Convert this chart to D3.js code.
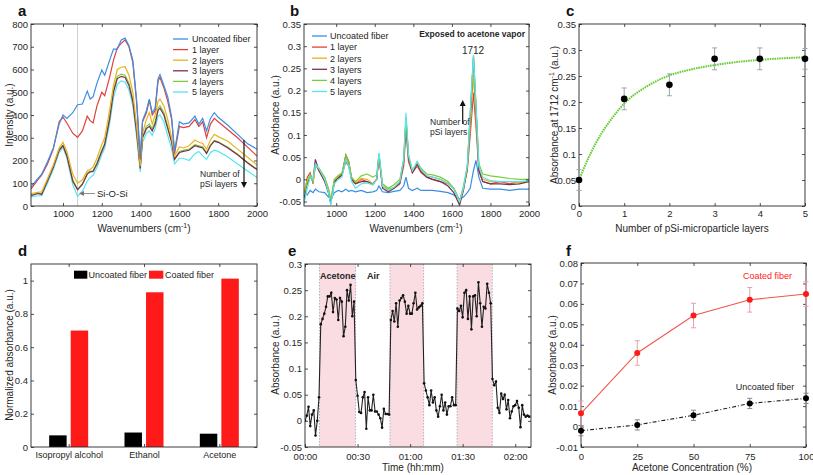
<!DOCTYPE html>
<html><head><meta charset="utf-8">
<script src="https://cdn.jsdelivr.net/npm/d3@7"></script>
<style>body{margin:0;background:#fff;} svg text{font-family:"Liberation Sans",Arial,Helvetica,sans-serif;fill:#262626;}</style>
</head><body><svg id="chart" width="813" height="475"></svg>
<script>
// ---------- Panel a: intensity spectra ----------
const A_WN = [835,870,890,920,950,980,1000,1020,1050,1075,1100,1125,1140,1155,1175,1200,1215,1240,1260,1280,1300,1320,1340,1360,1380,1398,1410,1430,1445,1460,1475,1490,1500,1520,1540,1560,1575,1600,1620,1650,1680,1700,1720,1740,1760,1780,1800,1850,1900,1950,2000];
const A_UNCOATED = [85,120,140,195,255,360,400,385,410,445,448,505,470,480,540,598,575,640,690,690,730,738,705,640,460,215,375,420,470,410,430,560,578,530,480,390,240,370,360,365,395,360,385,330,385,410,390,355,315,275,250];
const A_L1 = [75,115,135,185,250,370,390,365,320,302,330,395,375,365,440,500,485,565,640,695,715,730,700,630,450,205,370,410,465,400,420,550,565,520,460,380,230,350,345,350,380,350,370,300,360,385,370,335,300,260,220];
const A_L2 = [55,60,62,120,180,255,280,240,140,100,115,155,160,172,210,270,300,420,530,600,610,612,575,500,350,175,320,380,410,360,400,460,470,440,380,300,220,260,255,265,290,280,275,250,290,315,305,285,250,215,180];
const A_L3 = [45,55,50,110,170,245,265,220,110,72,95,140,150,152,185,240,270,380,500,560,570,565,530,460,320,165,300,340,350,330,360,420,430,400,340,280,205,235,240,245,265,260,255,230,265,285,280,255,225,190,160];
const A_L4 = [50,55,55,115,175,250,268,225,115,72,98,145,152,155,190,245,275,390,510,570,580,575,540,470,330,168,305,350,360,340,370,430,440,410,350,285,210,240,245,250,270,265,260,235,268,288,282,258,228,192,162];
const A_L5 = [40,45,45,100,160,235,258,210,95,42,65,110,125,135,170,225,255,360,475,535,550,545,510,440,300,150,280,320,330,310,340,395,400,370,310,250,185,210,210,200,230,240,220,205,235,245,240,215,185,155,125];
const A_X_TICKS = [1000,1200,1400,1600,1800,2000];
const A_Y_TICKS = [0,100,200,300,400,500,600,700,800];

// ---------- Panel b: absorbance spectra ----------
const B_WN = [833,850,865,880,892,910,940,960,972,990,1010,1030,1050,1065,1080,1100,1130,1160,1190,1210,1222,1240,1270,1300,1330,1350,1362,1375,1395,1420,1440,1470,1500,1540,1580,1610,1640,1660,1680,1695,1712,1725,1740,1760,1800,1850,1900,1950,2000];
const B_UNCOATED = [-0.03,-0.035,-0.025,-0.03,-0.022,-0.028,-0.03,-0.04,-0.045,-0.03,-0.025,-0.028,-0.022,-0.027,-0.025,-0.028,-0.025,-0.03,-0.028,-0.025,-0.015,-0.028,-0.03,-0.027,-0.025,-0.015,0.005,-0.02,-0.025,-0.02,-0.025,-0.025,-0.025,-0.027,-0.03,-0.035,-0.045,-0.04,-0.03,-0.02,0.02,0.043,0.005,-0.02,-0.022,-0.022,-0.025,-0.022,-0.022];
const B_L1 = [-0.045,0.005,0.015,-0.01,0.035,0.02,0.0,-0.03,-0.05,-0.01,0.005,0.01,0.04,0.03,0.0,-0.01,0.0,-0.005,-0.01,0.0,0.05,-0.015,-0.025,-0.02,-0.01,0.03,0.11,0.04,0.015,0.03,0.015,0.005,0.0,-0.005,-0.01,-0.02,-0.048,-0.02,0.02,0.1,0.195,0.12,0.02,-0.005,-0.01,-0.005,-0.01,-0.005,-0.005];
const B_L2 = [-0.03,0.0,0.01,-0.005,0.03,0.025,0.005,-0.025,-0.05,-0.005,0.008,0.012,0.048,0.035,0.0,-0.008,0.002,0.0,-0.01,0.0,0.055,-0.015,-0.022,-0.018,-0.005,0.04,0.13,0.05,0.02,0.035,0.02,0.008,0.005,0.0,-0.008,-0.02,-0.05,-0.02,0.025,0.12,0.235,0.14,0.025,0.0,-0.005,-0.005,-0.005,-0.008,-0.003];
const B_L3 = [-0.04,-0.01,0.005,0.0,0.045,0.02,-0.005,-0.03,-0.055,-0.005,0.002,0.01,0.055,0.04,0.0,-0.01,-0.005,-0.005,-0.012,0.0,0.055,-0.02,-0.028,-0.02,-0.008,0.04,0.135,0.05,0.015,0.035,0.018,0.005,0.0,-0.005,-0.015,-0.03,-0.058,-0.025,0.025,0.14,0.275,0.16,0.02,-0.005,-0.01,-0.01,-0.012,-0.01,-0.005];
const B_L4 = [-0.035,-0.005,0.01,-0.005,0.03,0.025,0.005,-0.02,-0.045,0.0,0.008,0.015,0.055,0.04,0.005,-0.005,0.008,0.012,0.005,0.01,0.058,-0.01,-0.02,-0.012,0.0,0.045,0.14,0.055,0.02,0.04,0.025,0.012,0.01,0.005,-0.005,-0.02,-0.05,-0.015,0.03,0.15,0.278,0.17,0.035,0.012,0.008,0.005,0.002,0.0,0.0];
const B_L5 = [-0.055,-0.02,0.005,0.0,0.035,0.025,0.0,-0.03,-0.058,-0.01,0.0,0.005,0.045,0.03,-0.005,-0.02,-0.01,-0.008,-0.012,0.0,0.06,-0.015,-0.025,-0.018,-0.005,0.045,0.15,0.055,0.02,0.04,0.022,0.008,0.005,0.0,-0.01,-0.022,-0.05,-0.02,0.03,0.15,0.28,0.165,0.03,0.005,-0.003,-0.005,-0.005,-0.005,-0.003];
const B_Y_TICKS = [-0.05,0,0.05,0.1,0.15,0.2,0.25,0.3,0.35];

const SERIES_NAMES = ["Uncoated fiber","1 layer","2 layers","3 layers","4 layers","5 layers"];
const SERIES_COLORS = ["#3a8ee6","#e0403a","#e6b422","#7e2f4e","#7ccb3a","#55e6ee"];

// ---------- Panel c ----------
const C_LAYERS = [0,1,2,3,4,5];
const C_ABS = [0.05,0.206,0.233,0.283,0.283,0.283];
const C_ERR = [0.02,0.021,0.021,0.021,0.021,0.02];
const C_FIT_X = [0,0.25,0.5,0.75,1,1.5,2,2.5,3,3.5,4,4.5,5];
const C_FIT_Y = [0.05,0.1,0.14,0.171,0.197,0.23,0.251,0.263,0.271,0.277,0.281,0.284,0.286];
const C_Y_TICKS = [0,0.05,0.1,0.15,0.2,0.25,0.3,0.35];

// ---------- Panel d ----------
const D_CATS = ["Isopropyl alcohol","Ethanol","Acetone"];
const D_UNCOATED = [0.07,0.087,0.08];
const D_COATED = [0.70,0.93,1.012];
const D_Y_TICKS = [0,0.2,0.4,0.6,0.8,1];

// ---------- Panel e ----------
const E_STEP_MIN = 1;
const E_VALUES = [0,0.01,0.027,-0.01,0.012,0.02,-0.028,0,0.045,
  0.185,0.195,0.205,0.218,0.238,0.238,0.245,0.208,0.235,0.232,0.193,0.235,0.228,0.162,0.18,0.25,0.23,0.26,0.2,0.228,
  0.078,0.048,0.017,0.015,0.045,0.055,-0.015,0.045,0.02,0.02,0.05,0.018,0.018,0.012,0.005,-0.013,0.023,0.013,0.013,0.012,
  0.193,0.21,0.19,0.225,0.18,0.23,0.235,0.24,0.228,0.205,0.22,0.205,0.205,0.225,0.245,0.213,0.217,0.22,0.225,
  0.072,0.058,0.045,0.03,0.058,0.035,0.045,0.02,0.008,0.028,0.05,0.02,0.035,0.012,0.028,0.028,0.045,0.03,0.03,
  0.215,0.21,0.22,0.198,0.245,0.25,0.195,0.238,0.175,0.238,0.24,0.2,0.265,0.225,0.18,0.218,0.215,0.262,0.245,0.225,
  0.08,0.068,0.075,0.025,0.015,0.052,0.042,0.05,0.022,0.04,0.005,0.018,0.028,0.03,0.038,0.025,-0.012,0.03,0.012,0.008,0.01,0.008];
const E_ACETONE_START = [8.3,48.5,86.8];
const E_ACETONE_END = [28.8,67.7,106.9];
const E_X_TICKS = [0,30,60,90,120];
const E_Y_TICKS = [-0.05,0,0.05,0.1,0.15,0.2,0.25,0.3];

// ---------- Panel f ----------
const F_CONC = [0,25,50,75,100];
const F_COATED = [0.0065,0.036,0.0543,0.062,0.0648];
const F_COATED_ERR = [0.006,0.006,0.006,0.006,0.006];
const F_UNCOATED = [-0.002,0.0008,0.0055,0.0113,0.0138];
const F_UNCOATED_ERR = [0.0025,0.0025,0.0025,0.0025,0.0025];
const F_Y_TICKS = [-0.01,0,0.01,0.02,0.03,0.04,0.05,0.06,0.07,0.08];

// ================= drawing =================
const svg = d3.select("#chart");
const INK = "#262626";
const FONT = '"Liberation Sans",Arial,sans-serif';
const numFmt = v => String(+v.toFixed(3));

function frame(box, x, y, xt, xf, yt, yf, opts = {}) {
  const g = svg.append("g");
  const xb = g.append("g").attr("transform", `translate(0,${box.b})`)
    .call(d3.axisBottom(x).tickValues(xt).tickFormat(xf).tickSize(-3).tickPadding(opts.xpad ?? 4));
  g.append("g").attr("transform", `translate(0,${box.t})`)
    .call(d3.axisTop(x).tickValues(xt).tickFormat("").tickSize(-3));
  g.append("g").attr("transform", `translate(${box.l},0)`)
    .call(d3.axisLeft(y).tickValues(yt).tickFormat(yf).tickSize(-3).tickPadding(3));
  g.append("g").attr("transform", `translate(${box.r},0)`)
    .call(d3.axisRight(y).tickValues(yt).tickFormat("").tickSize(-3));
  g.selectAll(".domain").remove();
  g.selectAll(".tick line").attr("stroke", INK).attr("stroke-width", 0.8);
  g.selectAll(".tick text").attr("font-size", 9.5).attr("fill", INK).attr("font-family", FONT);
  if (opts.xfont) xb.selectAll(".tick text").attr("font-size", opts.xfont);
  g.append("rect").attr("x", box.l).attr("y", box.t)
    .attr("width", box.r - box.l).attr("height", box.b - box.t)
    .attr("fill", "none").attr("stroke", INK).attr("stroke-width", 0.9);
  return g;
}
function clip(id, box) {
  svg.append("clipPath").attr("id", id).append("rect")
    .attr("x", box.l).attr("y", box.t).attr("width", box.r - box.l).attr("height", box.b - box.t);
  return svg.append("g").attr("clip-path", `url(#${id})`);
}
function panelLabel(t, x, y) {
  svg.append("text").attr("x", x).attr("y", y).attr("font-size", 15).attr("font-weight", "bold").style("fill", "#111").text(t);
}
function addParts(t, parts) {
  let afterSup = false;
  parts.forEach(p => {
    if (typeof p === "string") {
      const s = t.append("tspan").text(p);
      if (afterSup) s.attr("dy", 4);
      afterSup = false;
    } else {
      t.append("tspan").attr("font-size", 7).attr("dy", -4).text(p.sup);
      afterSup = true;
    }
  });
}
function yLabel(x, yc, parts) {
  const t = svg.append("text").attr("transform", `translate(${x},${yc}) rotate(-90)`)
    .attr("text-anchor", "middle").attr("font-size", 10);
  addParts(t, parts);
}
function xLabel(xc, y, parts) {
  const t = svg.append("text").attr("x", xc).attr("y", y).attr("text-anchor", "middle").attr("font-size", 10);
  addParts(t, parts);
}
function arrowHead(x, y, dir, color) {
  let p;
  if (dir === "down") p = `M${x-3},${y-6}L${x+3},${y-6}L${x},${y}Z`;
  else if (dir === "up") p = `M${x-3},${y+6}L${x+3},${y+6}L${x},${y}Z`;
  else p = `M${x+5},${y-2.5}L${x+5},${y+2.5}L${x},${y}Z`;
  svg.append("path").attr("d", p).attr("fill", color);
}

// ---------- Panel a ----------
{
  const box = {l: 31, r: 257, t: 24, b: 206};
  const x = d3.scaleLinear().domain([835, 2000]).range([box.l, box.r]);
  const y = d3.scaleLinear().domain([0, 800]).range([box.b, box.t]);
  const g = clip("clipA", box);
  g.append("line").attr("x1", x(1075)).attr("x2", x(1075)).attr("y1", box.t).attr("y2", box.b)
    .attr("stroke", "#cfcfcf").attr("stroke-width", 1);
  const series = [A_UNCOATED, A_L1, A_L2, A_L3, A_L4, A_L5];
  const line = d3.line().x((d, i) => x(A_WN[i])).y(d => y(d));
  [5, 4, 3, 2, 1, 0].forEach(i => {
    g.append("path").attr("d", line(series[i])).attr("fill", "none")
      .attr("stroke", SERIES_COLORS[i]).attr("stroke-width", 1.2);
  });
  frame(box, x, y, A_X_TICKS, d3.format("d"), A_Y_TICKS, d3.format("d"));
  SERIES_NAMES.forEach((n, i) => {
    const yy = 39 + i * 10.6;
    svg.append("line").attr("x1", 173).attr("x2", 188).attr("y1", yy).attr("y2", yy)
      .attr("stroke", SERIES_COLORS[i]).attr("stroke-width", 1.3);
    svg.append("text").attr("x", 192).attr("y", yy + 3.3).attr("font-size", 9).text(n);
  });
  svg.append("text").attr("x", 97).attr("y", 196.5).attr("font-size", 9.5).text("Si-O-Si");
  svg.append("line").attr("x1", 95).attr("x2", 82).attr("y1", 193.5).attr("y2", 193.5).attr("stroke", "#777").attr("stroke-width", 0.8);
  arrowHead(79, 193.5, "left", "#777");
  svg.append("text").attr("x", 200).attr("y", 177).attr("font-size", 8.5).text("Number of");
  svg.append("text").attr("x", 200).attr("y", 187).attr("font-size", 8.5).text("pSi layers");
  svg.append("line").attr("x1", 244).attr("x2", 244).attr("y1", 140).attr("y2", 182).attr("stroke", "#111").attr("stroke-width", 1.2);
  arrowHead(244, 188, "down", "#111");
  yLabel(12.5, 115, ["Intensity (a.u.)"]);
  xLabel(144, 232, ["Wavenumbers (cm", {sup: "-1"}, ")"]);
  panelLabel("a", 18, 16);
}

// ---------- Panel b ----------
{
  const box = {l: 304, r: 529, t: 24, b: 206};
  const x = d3.scaleLinear().domain([833, 2000]).range([box.l, box.r]);
  const y = d3.scaleLinear().domain([-0.06, 0.35]).range([box.b, box.t]);
  const g = clip("clipB", box);
  const series = [B_UNCOATED, B_L1, B_L2, B_L3, B_L4, B_L5];
  const line = d3.line().x((d, i) => x(B_WN[i])).y(d => y(d));
  [0, 1, 2, 3, 4, 5].forEach(i => {
    g.append("path").attr("d", line(series[i])).attr("fill", "none")
      .attr("stroke", SERIES_COLORS[i]).attr("stroke-width", 1.2);
  });
  frame(box, x, y, A_X_TICKS, d3.format("d"), B_Y_TICKS, numFmt);
  SERIES_NAMES.forEach((n, i) => {
    const yy = 36 + i * 11.1;
    svg.append("line").attr("x1", 312).attr("x2", 327).attr("y1", yy).attr("y2", yy)
      .attr("stroke", SERIES_COLORS[i]).attr("stroke-width", 1.3);
    svg.append("text").attr("x", 330).attr("y", yy + 3.3).attr("font-size", 9).text(n);
  });
  svg.append("text").attr("x", 525).attr("y", 37).attr("text-anchor", "end").attr("font-size", 8.5).attr("font-weight", "bold").text("Exposed to acetone vapor");
  svg.append("text").attr("x", 473).attr("y", 53.5).attr("text-anchor", "middle").attr("font-size", 10).text("1712");
  svg.append("text").attr("x", 430).attr("y", 125).attr("font-size", 8.5).text("Number of");
  svg.append("text").attr("x", 430).attr("y", 135).attr("font-size", 8.5).text("pSi layers");
  svg.append("line").attr("x1", 462.7).attr("x2", 462.7).attr("y1", 124).attr("y2", 106).attr("stroke", "#111").attr("stroke-width", 1.2);
  arrowHead(462.7, 100, "up", "#111");
  yLabel(279, 115, ["Absorbance (a.u.)"]);
  xLabel(416, 232, ["Wavenumbers (cm", {sup: "-1"}, ")"]);
  panelLabel("b", 290, 16);
}

// ---------- Panel c ----------
{
  const box = {l: 579, r: 805, t: 24, b: 206};
  const x = d3.scaleLinear().domain([0, 5]).range([box.l, box.r]);
  const y = d3.scaleLinear().domain([0, 0.35]).range([box.b, box.t]);
  frame(box, x, y, C_LAYERS, d3.format("d"), C_Y_TICKS, numFmt);
  const g = svg.append("g");
  g.append("path").attr("d", d3.line().x((d, i) => x(C_FIT_X[i])).y(d => y(d)).curve(d3.curveMonotoneX)(C_FIT_Y))
    .attr("fill", "none").attr("stroke", "#66cc33").attr("stroke-width", 2).attr("stroke-dasharray", "1.6,0.8");
  C_LAYERS.forEach((l, i) => {
    const cx = x(l), y1 = y(C_ABS[i] - C_ERR[i]), y2 = y(C_ABS[i] + C_ERR[i]);
    g.append("line").attr("x1", cx).attr("x2", cx).attr("y1", y1).attr("y2", y2).attr("stroke", "#9aa4a8").attr("stroke-width", 1);
    [y1, y2].forEach(yy => g.append("line").attr("x1", cx - 2.5).attr("x2", cx + 2.5).attr("y1", yy).attr("y2", yy).attr("stroke", "#9aa4a8").attr("stroke-width", 1));
    g.append("circle").attr("cx", cx).attr("cy", y(C_ABS[i])).attr("r", 3.3).attr("fill", "#000");
  });
  yLabel(557.5, 115, ["Absorbance at 1712 cm", {sup: "-1"}, " (a.u.)"]);
  xLabel(692, 232, ["Number of pSi-microparticle layers"]);
  panelLabel("c", 566, 16);
}

// ---------- Panel d ----------
{
  const box = {l: 31, r: 257, t: 264, b: 447};
  const x = d3.scaleLinear().domain([0.5, 3.5]).range([box.l, box.r]);
  const y = d3.scaleLinear().domain([0, 1.1]).range([box.b, box.t]);
  const bw = 0.232, off = 0.143;
  D_CATS.forEach((c, i) => {
    svg.append("rect").attr("x", x(i + 1 - off - bw / 2)).attr("width", x(bw) - x(0))
      .attr("y", y(D_UNCOATED[i])).attr("height", y(0) - y(D_UNCOATED[i])).attr("fill", "#000");
    svg.append("rect").attr("x", x(i + 1 + off - bw / 2)).attr("width", x(bw) - x(0))
      .attr("y", y(D_COATED[i])).attr("height", y(0) - y(D_COATED[i])).attr("fill", "#ff1a1a");
  });
  frame(box, x, y, [1, 2, 3], (d, i) => D_CATS[i], D_Y_TICKS, numFmt, {xfont: 9, xpad: 5});
  svg.append("rect").attr("x", 74).attr("y", 270.7).attr("width", 13.3).attr("height", 8).attr("fill", "#000");
  svg.append("text").attr("x", 88.5).attr("y", 278.3).attr("font-size", 9).text("Uncoated fiber");
  svg.append("rect").attr("x", 149).attr("y", 270.7).attr("width", 14.3).attr("height", 8).attr("fill", "#ff1a1a");
  svg.append("text").attr("x", 165).attr("y", 278.3).attr("font-size", 9).text("Coated fiber");
  yLabel(12.5, 355, ["Normalized absorbance (a.u.)"]);
  panelLabel("d", 18, 256);
}

// ---------- Panel e ----------
{
  const box = {l: 305, r: 531, t: 264, b: 447};
  const x = d3.scaleLinear().domain([0, 129]).range([box.l, box.r]);
  const y = d3.scaleLinear().domain([-0.05, 0.3]).range([box.b, box.t]);
  const g = clip("clipE", box);
  E_ACETONE_START.forEach((s, i) => {
    const e = E_ACETONE_END[i];
    g.append("rect").attr("x", x(s)).attr("width", x(e) - x(s)).attr("y", box.t).attr("height", box.b - box.t).attr("fill", "#f9dde2");
    [s, e].forEach(v => g.append("line").attr("x1", x(v)).attr("x2", x(v)).attr("y1", box.t).attr("y2", box.b)
      .attr("stroke", "#a8a0a8").attr("stroke-width", 0.8).attr("stroke-dasharray", "1.5,1.5"));
  });
  const line = d3.line().x((d, i) => x(i * E_STEP_MIN)).y(d => y(d));
  g.append("path").attr("d", line(E_VALUES)).attr("fill", "none").attr("stroke", "#222").attr("stroke-width", 1.1);
  E_VALUES.forEach((v, i) => g.append("circle").attr("cx", x(i * E_STEP_MIN)).attr("cy", y(v)).attr("r", 1.3).attr("fill", "#111"));
  const tf = m => String(Math.floor(m / 60)).padStart(2, "0") + ":" + String(m % 60).padStart(2, "0");
  frame(box, x, y, E_X_TICKS, tf, E_Y_TICKS, numFmt, {xpad: 6});
  svg.append("text").attr("x", 320).attr("y", 279).attr("font-size", 9).attr("font-weight", "bold").text("Acetone");
  svg.append("text").attr("x", 367).attr("y", 279).attr("font-size", 9).attr("font-weight", "bold").text("Air");
  yLabel(279, 355, ["Absorbance (a.u.)"]);
  xLabel(413, 471, ["Time (hh:mm)"]);
  panelLabel("e", 288, 256);
}

// ---------- Panel f ----------
{
  const box = {l: 581, r: 806, t: 263, b: 447};
  const x = d3.scaleLinear().domain([0, 100]).range([box.l, box.r]);
  const y = d3.scaleLinear().domain([-0.01, 0.08]).range([box.b, box.t]);
  frame(box, x, y, F_CONC, d3.format("d"), F_Y_TICKS, numFmt, {xpad: 6});
  const g = svg.append("g");
  function series(vals, errs, lineColor, dash, errColor, dotColor) {
    F_CONC.forEach((c, i) => {
      const cx = x(c), y1 = y(vals[i] - errs[i]), y2 = y(vals[i] + errs[i]);
      g.append("line").attr("x1", cx).attr("x2", cx).attr("y1", y1).attr("y2", y2).attr("stroke", errColor).attr("stroke-width", 1);
      [y1, y2].forEach(yy => g.append("line").attr("x1", cx - 2.5).attr("x2", cx + 2.5).attr("y1", yy).attr("y2", yy).attr("stroke", errColor).attr("stroke-width", 1));
    });
    g.append("path").attr("d", d3.line().x((d, i) => x(F_CONC[i])).y(d => y(d))(vals))
      .attr("fill", "none").attr("stroke", lineColor).attr("stroke-width", 1.1).attr("stroke-dasharray", dash);
    vals.forEach((v, i) => g.append("circle").attr("cx", x(F_CONC[i])).attr("cy", y(v)).attr("r", 3).attr("fill", dotColor));
  }
  series(F_COATED, F_COATED_ERR, "#f2554d", null, "#e8a0a8", "#ff1a1a");
  series(F_UNCOATED, F_UNCOATED_ERR, "#222", "4,2,1,2", "#888", "#000");
  svg.append("text").attr("x", 767.5).attr("y", 279).attr("text-anchor", "middle").attr("font-size", 9).style("fill", "#ff1a1a").text("Coated fiber");
  svg.append("text").attr("x", 765).attr("y", 390).attr("text-anchor", "middle").attr("font-size", 9).text("Uncoated fiber");
  yLabel(556, 355, ["Absorbance (a.u.)"]);
  xLabel(692, 471, ["Acetone Concentration (%)"]);
  panelLabel("f", 566, 256);
}
</script></body></html>
